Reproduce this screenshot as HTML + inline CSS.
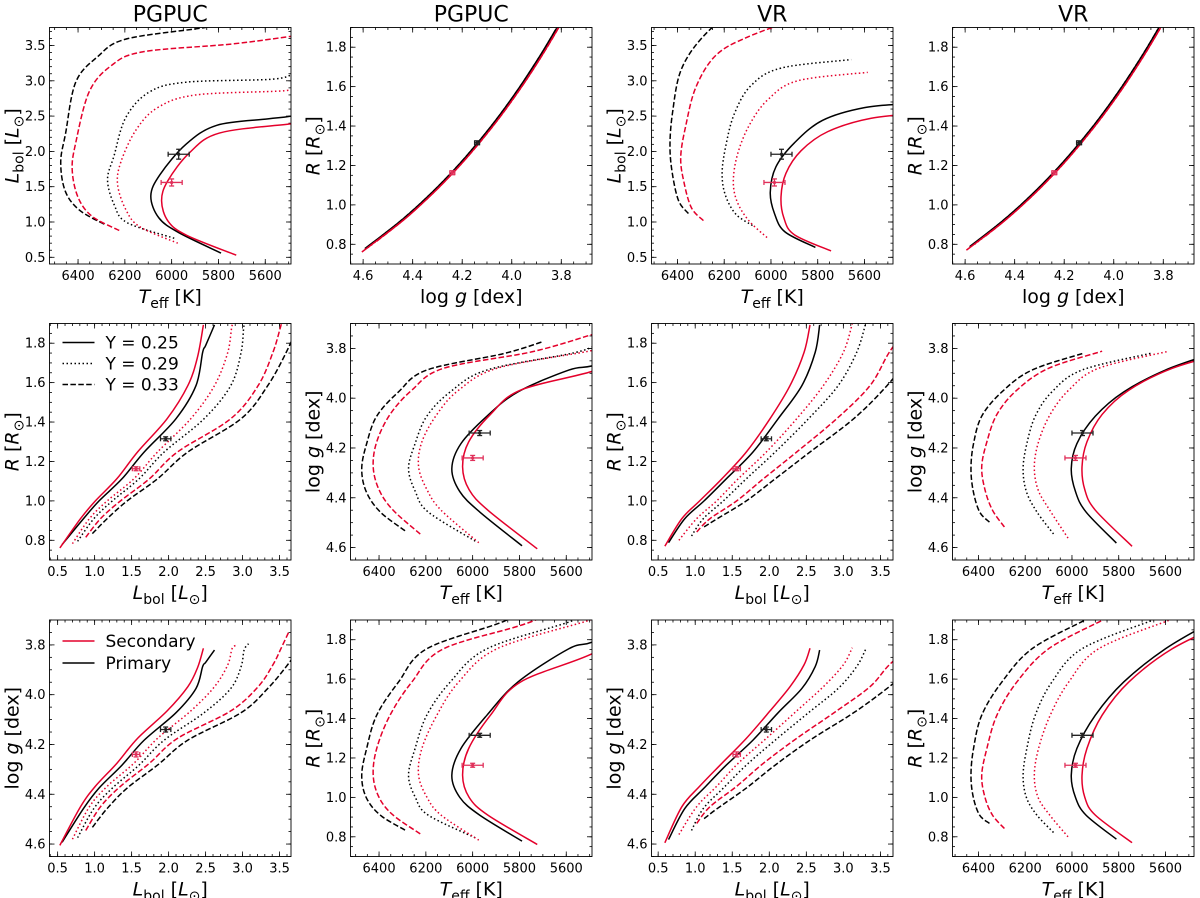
<!DOCTYPE html>
<html><head><meta charset="utf-8">
<style>
html,body{margin:0;padding:0;background:#fff;}
svg{display:block;font-family:"DejaVu Sans","Liberation Sans",sans-serif;}
</style></head>
<body>
<svg id="fig" width="1200" height="898" viewBox="0 0 1200 898" xmlns="http://www.w3.org/2000/svg"></svg>
<script>
// ===== Data: stellar evolution tracks (Teff [K], R [Rsun], Lbol [Lsun]) =====
// PGPUC
const P25p_T=[5789,5970,6055,6089,6050,5939,5807,5589,5489,5300];
const P25p_R=[0.778,0.91,1.0,1.112,1.248,1.417,1.585,1.754,1.788,1.893];
const P25p_L=[0.56,0.85,1.06,1.37,1.67,2.10,2.37,2.46,2.50,2.62];
const P25s_T=[5724,5935,6015,6043,6017,5924,5796,5489,5250];
const P25s_R=[0.761,0.91,1.0,1.112,1.248,1.417,1.585,1.729,1.893];
const P25s_L=[0.53,0.81,1.01,1.30,1.58,1.98,2.26,2.39,2.47];
const P29p_T=[5989,6190,6245,6274,6246,6196,6096,5939,5581,5490];
const P29p_R=[0.795,0.91,1.0,1.112,1.248,1.417,1.585,1.754,1.893,1.95];
const P29p_L=[0.77,0.99,1.24,1.60,1.94,2.48,2.84,2.98,3.02,3.08];
const P29s_T=[5974,6135,6195,6231,6217,6153,6060,5896,5517,5460];
const P29s_R=[0.783,0.91,1.0,1.112,1.248,1.417,1.585,1.754,1.893,1.92];
const P29s_L=[0.70,0.93,1.17,1.53,1.85,2.30,2.62,2.80,2.86,2.93];
const P33p_T=[6289,6395,6455,6474,6453,6410,6317,6196,5867,5700];
const P33p_R=[0.834,0.91,1.0,1.112,1.248,1.417,1.585,1.754,1.893,2.0];
const P33p_L=[0.97,1.17,1.44,1.85,2.26,2.98,3.34,3.59,3.75,3.85];
const P33s_T=[6224,6340,6400,6425,6410,6353,6260,6124,5746,5490];
const P33s_R=[0.815,0.91,1.0,1.112,1.248,1.417,1.585,1.754,1.893,2.05];
const P33s_L=[0.88,1.08,1.35,1.74,2.12,2.84,3.21,3.41,3.52,3.63];
// VR
const V25p_T=[5810,5940,5985,6003,5979,5900,5779,5600,5400];
const V25p_R=[0.788,0.91,1.0,1.112,1.248,1.417,1.585,1.754,1.893];
const V25p_L=[0.64,0.86,1.12,1.42,1.78,2.12,2.44,2.62,2.68];
const V25s_T=[5743,5900,5945,5957,5936,5871,5757,5571,5330];
const V25s_R=[0.77,0.91,1.0,1.112,1.248,1.417,1.585,1.754,1.893];
const V25s_L=[0.59,0.82,1.06,1.36,1.69,2.01,2.28,2.47,2.55];
const V29p_T=[6079,6150,6195,6209,6193,6157,6086,5957,5657];
const V29p_R=[0.822,0.91,1.0,1.112,1.248,1.417,1.585,1.754,1.898];
const V29p_L=[0.95,1.11,1.38,1.69,2.08,2.53,2.93,3.18,3.30];
const V29s_T=[6017,6095,6145,6161,6143,6093,6014,5886,5586];
const V29s_R=[0.80,0.91,1.0,1.112,1.248,1.417,1.585,1.754,1.898];
const V29s_L=[0.78,1.02,1.29,1.58,1.96,2.37,2.73,3.00,3.12];
const V33p_T=[6353,6395,6422,6432,6421,6386,6300,6171,5947];
const V33p_R=[0.868,0.91,1.0,1.112,1.248,1.417,1.585,1.754,1.898];
const V33p_L=[1.12,1.30,1.69,2.08,2.55,3.14,3.59,3.95,4.30];
const V33s_T=[6289,6340,6372,6386,6364,6321,6236,6100,5871];
const V33s_R=[0.842,0.91,1.0,1.112,1.248,1.417,1.585,1.754,1.898];
const V33s_L=[1.02,1.20,1.56,1.92,2.37,2.91,3.36,3.62,3.90];
// component masses [Msun] (used for log g)
const massPrimary=0.865;
const massSecondary=0.851;
// observed values: [Teff, eTeff, L, eL, R, eR, logg, elogg]
const obsPrimaryP=[5970,45,1.96,0.07,1.315,0.01,4.14,0.01];
const obsSecondaryP=[6000,45,1.56,0.05,1.163,0.01,4.24,0.01];
const obsPrimaryV=[5955,45,1.96,0.07,1.315,0.01,4.14,0.01];
const obsSecondaryV=[5985,45,1.56,0.05,1.163,0.01,4.24,0.01];
// tick values
const teffTicks=[6400,6200,6000,5800,5600];
const lumTicks=[0.5,1.0,1.5,2.0,2.5,3.0,3.5];
const radTicks=[0.8,1.0,1.2,1.4,1.6,1.8];
const loggTicks=[3.8,4.0,4.2,4.4,4.6];
const panelTitles=["PGPUC","PGPUC","VR","VR"];
const legendYLabels=["Y = 0.25","Y = 0.29","Y = 0.33"];
const legendCompLabels=["Secondary","Primary"];

const NS="http://www.w3.org/2000/svg";
const svg=document.getElementById('fig');
const RED="#e4002b", BLACK="#000";
function mk(tag,attrs,parent){const e=document.createElementNS(NS,tag);for(const k in attrs)e.setAttribute(k,attrs[k]);(parent||svg).appendChild(e);return e;}

function loggOf(R,M){return 4.438+Math.log10(M)-2*Math.log10(R);}
function track(T,R,L,M,comp,style){return {T:T,R:R,L:L,g:R.map(r=>loggOf(r,M)),comp:comp,style:style};}
const tracks={
 P:[track(P25p_T,P25p_R,P25p_L,massPrimary,'p','solid'),track(P29p_T,P29p_R,P29p_L,massPrimary,'p','dotted'),track(P33p_T,P33p_R,P33p_L,massPrimary,'p','dashed'),
    track(P25s_T,P25s_R,P25s_L,massSecondary,'s','solid'),track(P29s_T,P29s_R,P29s_L,massSecondary,'s','dotted'),track(P33s_T,P33s_R,P33s_L,massSecondary,'s','dashed')],
 V:[track(V25p_T,V25p_R,V25p_L,massPrimary,'p','solid'),track(V29p_T,V29p_R,V29p_L,massPrimary,'p','dotted'),track(V33p_T,V33p_R,V33p_L,massPrimary,'p','dashed'),
    track(V25s_T,V25s_R,V25s_L,massSecondary,'s','solid'),track(V29s_T,V29s_R,V29s_L,massSecondary,'s','dotted'),track(V33s_T,V33s_R,V33s_L,massSecondary,'s','dashed')]
};
const obs={P:{p:obsPrimaryP,s:obsSecondaryP},V:{p:obsPrimaryV,s:obsSecondaryV}};
const obsIdx={T:0,L:2,R:4,g:6};

const colX=[49.5,350.5,651.5,952.5], PW=241.5;
const rowY=[27.5,323.5,620], PH=236.5;
const lim={
 P:{T:[6522,5490],Lx:[0.39,3.654],Ly:[0.405,3.755],R:[0.7,1.9],gx:[4.651,3.676],gy:[4.65,3.70]},
 V:{T:[6511,5478],Lx:[0.41,3.67],Ly:[0.405,3.755],R:[0.7,1.9],gx:[4.651,3.676],gy:[4.65,3.70]}
};
const panels=[
 {r:0,c:0,s:'P',x:'T',y:'L'},{r:0,c:1,s:'P',x:'g',y:'R'},{r:0,c:2,s:'V',x:'T',y:'L'},{r:0,c:3,s:'V',x:'g',y:'R'},
 {r:1,c:0,s:'P',x:'L',y:'R'},{r:1,c:1,s:'P',x:'T',y:'g'},{r:1,c:2,s:'V',x:'L',y:'R'},{r:1,c:3,s:'V',x:'T',y:'g'},
 {r:2,c:0,s:'P',x:'L',y:'g'},{r:2,c:1,s:'P',x:'T',y:'R'},{r:2,c:2,s:'V',x:'L',y:'g'},{r:2,c:3,s:'V',x:'T',y:'R'}
];
const tickInfo={T:{maj:teffTicks,step:50,fmt:v=>String(v)},L:{maj:lumTicks,step:0.1,fmt:v=>v.toFixed(1)},
 R:{maj:radTicks,step:0.05,fmt:v=>v.toFixed(1)},g:{maj:loggTicks,step:0.05,fmt:v=>v.toFixed(1)}};

function catmull(pts){
 if(pts.length<2)return '';
 let d='M'+pts[0][0].toFixed(2)+','+pts[0][1].toFixed(2);
 for(let i=0;i<pts.length-1;i++){
  const p0=pts[i-1]||pts[i],p1=pts[i],p2=pts[i+1],p3=pts[i+2]||p2;
  const c1=[p1[0]+(p2[0]-p0[0])/6,p1[1]+(p2[1]-p0[1])/6];
  const c2=[p2[0]-(p3[0]-p1[0])/6,p2[1]-(p3[1]-p1[1])/6];
  d+=' C'+c1[0].toFixed(2)+','+c1[1].toFixed(2)+' '+c2[0].toFixed(2)+','+c2[1].toFixed(2)+' '+p2[0].toFixed(2)+','+p2[1].toFixed(2);
 }
 return d;
}
function axisLabel(parent,kind,x,y,rot){
 const t=mk('text',{x:x,y:y,'font-size':19,'text-anchor':'middle',fill:'#000'},parent);
 if(rot)t.setAttribute('transform','rotate(-90 '+x+' '+y+')');
 const add=(txt,o)=>{const s=mk('tspan',o||{},t);s.textContent=txt;return s;};
 if(kind==='T'){add('T',{'font-style':'italic'});add('eff',{'font-size':14,dy:5});add(' [K]',{dy:-5});}
 else if(kind==='L'){add('L',{'font-style':'italic'});add('bol',{'font-size':14,dy:5});add(' [',{dy:-5});add('L',{'font-style':'italic'});add('⊙',{'font-size':14,dy:5});add(']',{dy:-5});}
 else if(kind==='R'){add('R',{'font-style':'italic'});add(' [');add('R',{'font-style':'italic'});add('⊙',{'font-size':14,dy:5});add(']',{dy:-5});}
 else {add('log ');add('g',{'font-style':'italic'});add(' [dex]');}
 return t;
}

panels.forEach((p,pi)=>{
 const x0=colX[p.c],y0=rowY[p.r],x1=x0+PW,y1=y0+PH;
 const L=lim[p.s];
 const xl=p.x==='T'?L.T:p.x==='L'?L.Lx:L.gx;
 const yl=p.y==='L'?L.Ly:p.y==='R'?L.R:L.gy;
 const sx=v=>x0+(v-xl[0])/(xl[1]-xl[0])*PW;
 const sy=v=>y1-(v-yl[0])/(yl[1]-yl[0])*PH;
 const g=mk('g',{});
 
 
 const cp=mk('clipPath',{id:'clip'+pi},g);
 mk('rect',{x:x0,y:y0,width:PW,height:PH},cp);
 const tg=mk('g',{stroke:'#000','stroke-width':0.8},g);
 
 
 const xi=tickInfo[p.x],yi=tickInfo[p.y];
 const xmin=Math.min(xl[0],xl[1]),xmax=Math.max(xl[0],xl[1]);
 const ymin=Math.min(yl[0],yl[1]),ymax=Math.max(yl[0],yl[1]);
 for(let v=Math.ceil(xmin/xi.step-1e-6)*xi.step;v<=xmax+1e-9;v+=xi.step){const X=sx(v);
  mk('line',{x1:X,y1:y1,x2:X,y2:y1-2.5},tg);mk('line',{x1:X,y1:y0,x2:X,y2:y0+2.5},tg);}
 for(let v=Math.ceil(ymin/yi.step-1e-6)*yi.step;v<=ymax+1e-9;v+=yi.step){const Y=sy(v);
  mk('line',{x1:x0,y1:Y,x2:x0+2.5,y2:Y},tg);mk('line',{x1:x1,y1:Y,x2:x1-2.5,y2:Y},tg);}
 xi.maj.forEach(v=>{const X=sx(v);
  mk('line',{x1:X,y1:y1,x2:X,y2:y1-5},tg);mk('line',{x1:X,y1:y0,x2:X,y2:y0+5},tg);
  const t=mk('text',{x:X,y:y1+16,'font-size':13,'text-anchor':'middle',fill:'#000',stroke:'none'},g);
  
  
  t.textContent=xi.fmt(v);});
 yi.maj.forEach(v=>{const Y=sy(v);
  mk('line',{x1:x0,y1:Y,x2:x0+5,y2:Y},tg);mk('line',{x1:x1,y1:Y,x2:x1-5,y2:Y},tg);
  const t=mk('text',{x:x0-4,y:Y+4.5,'font-size':13,'text-anchor':'end',fill:'#000',stroke:'none'},g);
  
  
  t.textContent=yi.fmt(v);});
 const xlab=axisLabel(g,p.x,x0+PW/2,y1+39,false);
 
 
 const ylab=axisLabel(g,p.y,x0-31,y0+PH/2,true);
 
 
 const cg=mk('g',{'clip-path':'url(#clip'+pi+')',fill:'none'},g);
 
 
 tracks[p.s].forEach(tr=>{
  const pts=tr[p.x].map((v,i)=>[sx(v),sy(tr[p.y][i])]);
  const path=mk('path',{d:catmull(pts),stroke:tr.comp==='p'?BLACK:RED,'stroke-width':1.5,fill:'none'},cg);
  if(tr.style==='dotted')path.setAttribute('stroke-dasharray','1.5 2.5');
  if(tr.style==='dashed')path.setAttribute('stroke-dasharray','5.5 2.4');
  
  
 });
 ['p','s'].forEach(c=>{
  const o=obs[p.s][c];const col=c==='p'?'#222':'#e0305a';
  const ix=obsIdx[p.x],iy=obsIdx[p.y];
  const X=sx(o[ix]),Y=sy(o[iy]);
  const xa=sx(o[ix]-o[ix+1]),xb=sx(o[ix]+o[ix+1]);
  const ya=sy(o[iy]-o[iy+1]),yb=sy(o[iy]+o[iy+1]);
  const og=mk('g',{stroke:col,'stroke-width':1.3},g);
  
  
  mk('line',{x1:xa,y1:Y,x2:xb,y2:Y},og);
  mk('line',{x1:xa,y1:Y-2.5,x2:xa,y2:Y+2.5},og);mk('line',{x1:xb,y1:Y-2.5,x2:xb,y2:Y+2.5},og);
  mk('line',{x1:X,y1:ya,x2:X,y2:yb},og);
  mk('line',{x1:X-2.5,y1:ya,x2:X+2.5,y2:ya},og);mk('line',{x1:X-2.5,y1:yb,x2:X+2.5,y2:yb},og);
  mk('circle',{cx:X,cy:Y,r:1.6,fill:col,stroke:'none'},og);
 });
 const fr=mk('rect',{x:x0,y:y0,width:PW,height:PH,fill:'none',stroke:'#000','stroke-width':0.9},g);
 
 
 if(p.r===0){const t=mk('text',{x:x0+PW/2,y:y0-6,'font-size':22,'text-anchor':'middle',fill:'#000'},g);
  
  
  t.textContent=panelTitles[p.c];}
 if(p.r===1&&p.c===0){
  const lg=mk('g',{},g);
  
  
  ['none','1.5 2.5','5.5 2.4'].forEach((da,i)=>{const Y=y0+19+i*21;
   const ln=mk('line',{x1:x0+13,y1:Y,x2:x0+45,y2:Y,stroke:'#000','stroke-width':1.5},lg);
   if(da!=='none')ln.setAttribute('stroke-dasharray',da);
   const t=mk('text',{x:x0+56,y:Y+6,'font-size':17,fill:'#000'},lg);
   
   
   t.textContent=legendYLabels[i];});
 }
 if(p.r===2&&p.c===0){
  const lg=mk('g',{},g);
  
  
  [RED,BLACK].forEach((col,i)=>{const Y=y0+21+i*22;
   mk('line',{x1:x0+13,y1:Y,x2:x0+45,y2:Y,stroke:col,'stroke-width':1.5},lg);
   const t=mk('text',{x:x0+56,y:Y+6,'font-size':17,fill:'#000'},lg);
   
   
   t.textContent=legendCompLabels[i];});
 }
});
</script>
</body></html>
